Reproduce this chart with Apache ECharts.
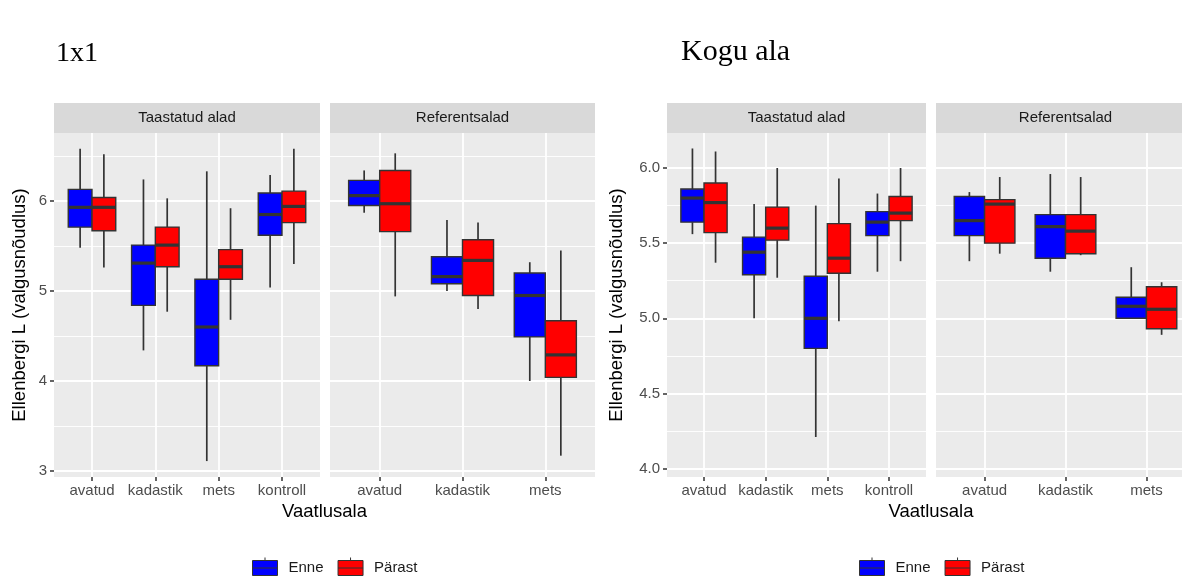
<!DOCTYPE html>
<html>
<head>
<meta charset="utf-8">
<script src="https://cdn.jsdelivr.net/npm/echarts@6/dist/echarts.min.js"></script>
<style>html,body{margin:0;padding:0;background:#fff;overflow:hidden}#c{width:1200px;height:576px}</style>
</head>
<body>
<div id="c"></div>
<script>
// ---------- DATA ----------
const categoriesRestored = ['avatud', 'kadastik', 'mets', 'kontroll'];
const categoriesReference = ['avatud', 'kadastik', 'mets'];
const groupNames = ['Enne', 'Pärast'];
const facetNames = ['Taastatud alad', 'Referentsalad'];
const chartTitles = ['1x1', 'Kogu ala'];
const xTitle = 'Vaatlusala';
const yTitle = 'Ellenbergi L (valgusnõudlus)';

// each row: [min, Q1, median, Q3, max]
const plot1x1RestoredEnne = [
  [5.48, 5.71, 5.93, 6.13, 6.58],
  [4.34, 4.84, 5.31, 5.51, 6.24],
  [3.11, 4.17, 4.60, 5.13, 6.33],
  [5.04, 5.62, 5.85, 6.09, 6.29]
];
const plot1x1RestoredParast = [
  [5.26, 5.67, 5.93, 6.04, 6.52],
  [4.77, 5.27, 5.51, 5.71, 6.03],
  [4.68, 5.13, 5.27, 5.46, 5.92],
  [5.30, 5.76, 5.94, 6.11, 6.58]
];
const plot1x1ReferenceEnne = [
  [5.87, 5.95, 6.06, 6.23, 6.34],
  [5.00, 5.08, 5.16, 5.38, 5.79],
  [4.00, 4.49, 4.95, 5.20, 5.32]
];
const plot1x1ReferenceParast = [
  [4.94, 5.66, 5.97, 6.34, 6.53],
  [4.80, 4.95, 5.34, 5.57, 5.76],
  [3.17, 4.04, 4.29, 4.67, 5.45]
];
const koguRestoredEnne = [
  [5.56, 5.64, 5.80, 5.86, 6.13],
  [5.00, 5.29, 5.44, 5.54, 5.76],
  [4.21, 4.80, 5.00, 5.28, 5.75],
  [5.31, 5.55, 5.64, 5.71, 5.83]
];
const koguRestoredParast = [
  [5.37, 5.57, 5.77, 5.90, 6.11],
  [5.27, 5.52, 5.60, 5.74, 6.00],
  [4.98, 5.30, 5.40, 5.63, 5.93],
  [5.38, 5.65, 5.70, 5.81, 6.00]
];
const koguReferenceEnne = [
  [5.38, 5.55, 5.65, 5.81, 5.84],
  [5.31, 5.40, 5.61, 5.69, 5.96],
  [5.00, 5.00, 5.08, 5.14, 5.34]
];
const koguReferenceParast = [
  [5.43, 5.50, 5.76, 5.79, 5.94],
  [5.42, 5.43, 5.58, 5.69, 5.94],
  [4.89, 4.93, 5.06, 5.21, 5.24]
];

const yTicks1x1 = [3, 4, 5, 6];
const yMinor1x1 = [3.5, 4.5, 5.5, 6.5];
const yRange1x1 = [2.933, 6.756];
const yTicksKogu = [4.0, 4.5, 5.0, 5.5, 6.0];
const yMinorKogu = [4.25, 4.75, 5.25, 5.75];
const yRangeKogu = [3.944, 6.233];

// ---------- STYLE / LAYOUT ----------
const colors = ['#0000ff', '#ff0000'];
const lineCol = '#333333';
const sans = 'Liberation Sans, Arial, sans-serif';
const serif = 'Liberation Serif, Times New Roman, serif';
const stripTop = 103, stripH = 30, panelTop = 133, panelH = 344;
const dodge = 0.1875, halfBox = 0.1875;

const panels = [
  {left: 54,  width: 266, cats: categoriesRestored,  data: [plot1x1RestoredEnne, plot1x1RestoredParast], range: yRange1x1, ticks: yTicks1x1, minor: yMinor1x1, showY: true, fmt: v => v.toFixed(0), facet: 0},
  {left: 330, width: 265, cats: categoriesReference, data: [plot1x1ReferenceEnne, plot1x1ReferenceParast], range: yRange1x1, ticks: yTicks1x1, minor: yMinor1x1, showY: false, fmt: v => v.toFixed(0), facet: 1},
  {left: 667, width: 259, cats: categoriesRestored,  data: [koguRestoredEnne, koguRestoredParast], range: yRangeKogu, ticks: yTicksKogu, minor: yMinorKogu, showY: true, fmt: v => v.toFixed(1), facet: 0},
  {left: 936, width: 259, cats: categoriesReference, data: [koguReferenceEnne, koguReferenceParast], range: yRangeKogu, ticks: yTicksKogu, minor: yMinorKogu, showY: false, fmt: v => v.toFixed(1), facet: 1}
];

function makeRender(offset, color) {
  return function (params, api) {
    const xc = api.value(0) + offset;
    const pMin = api.coord([xc, api.value(1)]);
    const pQ1 = api.coord([xc, api.value(2)]);
    const pMed = api.coord([xc, api.value(3)]);
    const pQ3 = api.coord([xc, api.value(4)]);
    const pMax = api.coord([xc, api.value(5)]);
    const hw = api.size([halfBox, 0])[0];
    const ls = {stroke: lineCol, lineWidth: 1.7};
    return {
      type: 'group',
      children: [
        {type: 'line', shape: {x1: pMin[0], y1: pMin[1], x2: pQ1[0], y2: pQ1[1]}, style: ls},
        {type: 'line', shape: {x1: pQ3[0], y1: pQ3[1], x2: pMax[0], y2: pMax[1]}, style: ls},
        {type: 'rect', shape: {x: pQ3[0] - hw, y: pQ3[1], width: 2 * hw, height: pQ1[1] - pQ3[1]},
          style: {fill: color, stroke: lineCol, lineWidth: 1.4}},
        {type: 'line', shape: {x1: pMed[0] - hw, y1: pMed[1], x2: pMed[0] + hw, y2: pMed[1]},
          style: {stroke: lineCol, lineWidth: 3.2}}
      ]
    };
  };
}

const grid = [], xAxis = [], yAxis = [], series = [], graphic = [];
panels.forEach((p, i) => {
  grid.push({left: p.left, top: panelTop, width: p.width, height: panelH, show: true,
    backgroundColor: '#ebebeb', borderWidth: 0, containLabel: false});
  const xt = p.cats.map((c, k) => k + 1);
  xAxis.push({
    type: 'value', gridIndex: i, min: 0.4, max: p.cats.length + 0.6,
    axisLine: {show: false},
    axisTick: {show: true, length: 4, lineStyle: {color: lineCol, width: 1.5}, customValues: xt},
    axisLabel: {show: true, customValues: xt, margin: 6, color: '#4d4d4d', fontSize: 15, fontFamily: sans,
      formatter: v => p.cats[Math.round(v) - 1]},
    splitLine: {show: true, lineStyle: {color: '#ffffff', width: 1.8}}
  });
  yAxis.push({
    type: 'value', gridIndex: i, min: p.range[0], max: p.range[1],
    axisLine: {show: false},
    axisTick: {show: p.showY, length: 4, lineStyle: {color: lineCol, width: 1.5}, customValues: p.ticks},
    axisLabel: {show: p.showY, customValues: p.ticks, margin: 7, color: '#4d4d4d', fontSize: 15, fontFamily: sans,
      formatter: p.fmt},
    splitLine: {show: true, lineStyle: {color: '#ffffff', width: 1.8}},
    z: 1
  });
  yAxis.push({
    type: 'value', gridIndex: i, min: p.range[0], max: p.range[1],
    axisLine: {show: false},
    axisTick: {show: false, customValues: p.minor},
    axisLabel: {show: false, customValues: p.minor},
    splitLine: {show: true, lineStyle: {color: '#ffffff', width: 0.9}},
    z: 0
  });
  p.data.forEach((rows, g) => {
    series.push({
      type: 'custom', name: groupNames[g], xAxisIndex: i, yAxisIndex: 2 * i,
      color: colors[g], itemStyle: {color: colors[g]},
      renderItem: makeRender(g === 0 ? -dodge : dodge, colors[g]),
      encode: {x: 0, y: [1, 2, 3, 4, 5]},
      data: rows.map((r, k) => [k + 1].concat(r)),
      z: 5
    });
  });
  // facet strip
  graphic.push({type: 'rect', shape: {x: p.left, y: stripTop, width: p.width, height: stripH},
    style: {fill: '#d9d9d9'}, silent: true});
  graphic.push({type: 'text', x: p.left + p.width / 2, y: stripTop + stripH / 2,
    style: {text: facetNames[p.facet], font: '15px ' + sans, fill: '#1a1a1a', textAlign: 'center', textVerticalAlign: 'middle'}});
});

// axis titles & chart titles
[[324.5, 20], [931, 617]].forEach((c, k) => {
  graphic.push({type: 'text', x: c[0], y: 512,
    style: {text: xTitle, font: '18.5px ' + sans, fill: '#000', textAlign: 'center', textVerticalAlign: 'middle'}});
  graphic.push({type: 'text', x: c[1], y: 305, rotation: Math.PI / 2,
    style: {text: yTitle, font: '18.5px ' + sans, fill: '#000', textAlign: 'center', textVerticalAlign: 'middle'}});
});
graphic.push({type: 'text', x: 56, y: 68, style: {text: chartTitles[0], font: '28px ' + serif, fill: '#000', textAlign: 'left', textVerticalAlign: 'bottom'}});
graphic.push({type: 'text', x: 681, y: 37, style: {text: chartTitles[1], font: '30px ' + serif, fill: '#000', textAlign: 'left', textVerticalAlign: 'alphabetic'}});

const iconPath = 'path://M12.5,0L12.5,3M0,3L25,3L25,18L0,18ZM12.5,18L12.5,21M0,10.5L25,10.5';
function legendAt(left) {
  return {
    left: left, top: 552, orient: 'horizontal', data: groupNames, icon: iconPath,
    itemWidth: 25, itemHeight: 21, itemGap: 14,
    itemStyle: {borderColor: lineCol, borderWidth: 1},
    textStyle: {fontSize: 15, fontFamily: sans, color: '#1a1a1a', padding: [0, 0, 0, 6]},
    selectedMode: false
  };
}

const chart = echarts.init(document.getElementById('c'), null, {renderer: 'canvas'});
chart.setOption({
  animation: false,
  backgroundColor: '#ffffff',
  grid, xAxis, yAxis, series, graphic,
  legend: [legendAt(247), legendAt(854)]
});
</script>
</body>
</html>
